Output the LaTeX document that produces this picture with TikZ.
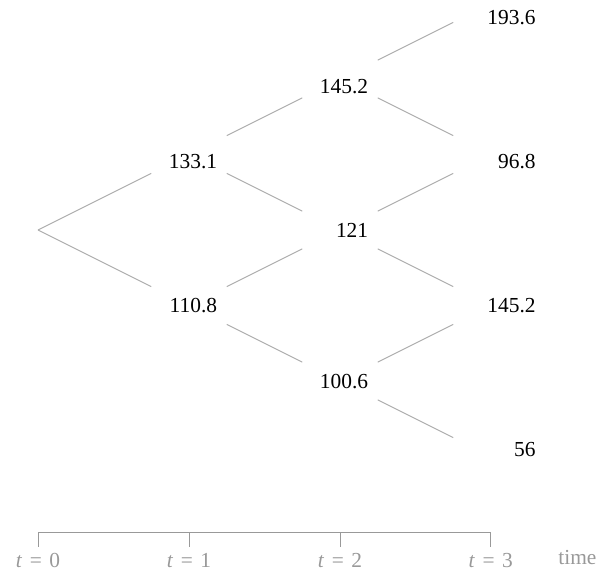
\documentclass[tikz,border=0pt]{standalone}
\usepackage{fontspec}
\setmainfont{Liberation Serif}
\usetikzlibrary{calc}

\definecolor{linegray}{gray}{0.68}
\definecolor{axisgray}{gray}{0.6}

\tikzset{
  edge/.style={draw=linegray, line width=0.5pt},
  axis/.style={draw=axisgray, line width=0.5pt},
  price/.style={anchor=east, inner sep=0pt, font=\fontsize{10.7}{12}\selectfont},
  timelabel/.style={anchor=base, inner sep=0pt, text=axisgray, font=\fontsize{10.7}{12}\selectfont}
}

\begin{document}
\begin{tikzpicture}[x=0.5pt, y=-0.5pt]
        \useasboundingbox (0,0) rectangle (604,571);

        % Lattice points
        \coordinate (r) at (38,230);
        \coordinate (u) at (189,154.5);
        \coordinate (d) at (189,305.5);
        \coordinate (uu) at (340,79);
        \coordinate (ud) at (340,230);
        \coordinate (dd) at (340,381);
        \coordinate (uuu) at (491,3.5);
        \coordinate (uud) at (491,154.5);
        \coordinate (udd) at (491,305.5);
        \coordinate (ddd) at (491,456.5);

        % Branches
        \draw[edge] (r) -- ($(r)!0.75!(u)$);
        \draw[edge] (r) -- ($(r)!0.75!(d)$);
        \foreach \a/\b in {u/uu, u/ud, d/ud, d/dd, uu/uuu, uu/uud, ud/uud, ud/udd, dd/udd, dd/ddd}
            \draw[edge] ($(\a)!0.25!(\b)$) -- ($(\a)!0.75!(\b)$);

        % Prices
        \node[price] (p1u) at (217.5,162) {133.1};
        \node[price] (p1d) at (217.5,306) {110.8};
        \node[price] (p2uu) at (368.5,86.7) {145.2};
        \node[price] (p2ud) at (368.5,230.5) {121};
        \node[price] (p2dd) at (368.5,382) {100.6};
        \node[price] (p3uuu) at (536,18) {193.6};
        \node[price] (p3uud) at (536,162) {96.8};
        \node[price] (p3udd) at (536,305.7) {145.2};
        \node[price] (p3ddd) at (536,450) {56};

        % Time axis
        \coordinate (t0) at (38,532.3);
        \coordinate (t1) at (189,532.3);
        \coordinate (t2) at (340,532.3);
        \coordinate (t3) at (490.7,532.3);
        \draw[axis] (t0) -- (t3);
        \foreach \i in {0,...,3} {
            \draw[axis] (t\i) -- ++(0,14.4);
            \node[timelabel] (l\i) at ($(t\i)+(0,35.5)$) {\textit{t}\hspace{0.35em}=\hspace{0.35em}\i};
        }
        \node[timelabel, anchor=base west] (time) at (558,564) {time};
    \end{tikzpicture}
\end{document}
